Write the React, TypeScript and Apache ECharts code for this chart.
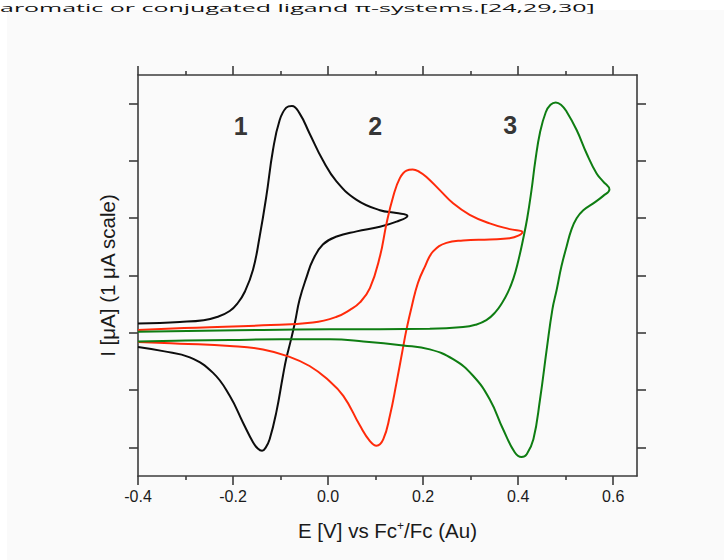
import React, { useEffect, useRef } from "react";
import * as echarts from "echarts";

// Axis ticks (data units)
const xMajorTicks = [-0.4, -0.2, 0, 0.2, 0.4, 0.6];
const xMinorTicks = [-0.3, -0.1, 0.1, 0.3, 0.5];
const yTicks = [-2, -1, 0, 1, 2, 3, 4];

// Cyclic voltammograms: [E (V), I (µA)] in scan order
const curve1: number[][] = [
  [-0.4, 0.16], [-0.312, 0.19], [-0.262, 0.22], [-0.232, 0.28], [-0.207, 0.38], [-0.19, 0.52], [-0.175, 0.72],
  [-0.158, 1.1], [-0.144, 1.68], [-0.13, 2.38], [-0.116, 3.19], [-0.102, 3.71],
  [-0.088, 3.93], [-0.076, 3.96], [-0.06, 3.83], [-0.039, 3.48], [-0.011, 3.01],
  [0.018, 2.64], [0.06, 2.32], [0.109, 2.14], [0.144, 2.09], [0.167, 2.04],
  [0.144, 1.94], [0.109, 1.85], [0.06, 1.77], [0.018, 1.68], [-0.011, 1.54],
  [-0.032, 1.27], [-0.045, 0.98], [-0.06, 0.58], [-0.07, 0.17], [-0.079, -0.15],
  [-0.088, -0.45], [-0.095, -0.75], [-0.109, -1.39], [-0.123, -1.86], [-0.131, -2.0], [-0.139, -2.06],
  [-0.148, -2.02], [-0.158, -1.91], [-0.179, -1.57], [-0.207, -1.1], [-0.242, -0.7], [-0.291, -0.43],
  [-0.347, -0.32], [-0.4, -0.25],
];

const curve2: number[][] = [
  [-0.4, 0.05], [-0.277, 0.09], [-0.137, 0.13], [-0.032, 0.18], [0.018, 0.28],
  [0.046, 0.4], [0.067, 0.53], [0.088, 0.78], [0.109, 1.33], [0.123, 1.91],
  [0.137, 2.38], [0.151, 2.7], [0.165, 2.83], [0.178, 2.85], [0.192, 2.81], [0.207, 2.72],
  [0.235, 2.49], [0.263, 2.26], [0.298, 2.06], [0.34, 1.91], [0.382, 1.81],
  [0.409, 1.76], [0.382, 1.65], [0.34, 1.63], [0.284, 1.61], [0.249, 1.57],
  [0.221, 1.42], [0.204, 1.16], [0.189, 0.87], [0.176, 0.46], [0.165, 0.06],
  [0.157, -0.29], [0.144, -0.87], [0.13, -1.45], [0.116, -1.86], [0.102, -1.97],
  [0.088, -1.89], [0.067, -1.62], [0.032, -1.1], [-0.003, -0.8], [-0.039, -0.58],
  [-0.081, -0.42], [-0.137, -0.29], [-0.207, -0.23], [-0.312, -0.19], [-0.4, -0.16],
];

const curve3: number[][] = [
  [-0.4, 0.02], [-0.137, 0.05], [0.004, 0.06], [0.214, 0.07], [0.284, 0.1],
  [0.31, 0.14], [0.333, 0.22], [0.352, 0.36], [0.366, 0.52], [0.378, 0.7],
  [0.39, 0.95], [0.4, 1.25], [0.41, 1.62], [0.419, 2.0], [0.428, 2.49],
  [0.436, 3.0], [0.446, 3.5], [0.458, 3.85], [0.468, 3.98], [0.479, 4.02],
  [0.49, 3.98], [0.502, 3.86], [0.523, 3.54], [0.544, 3.13], [0.565, 2.78],
  [0.579, 2.64], [0.592, 2.5], [0.579, 2.39], [0.558, 2.26], [0.537, 2.14],
  [0.523, 2.0], [0.512, 1.8], [0.502, 1.51], [0.491, 1.16], [0.481, 0.75],
  [0.472, 0.41], [0.46, -0.29], [0.446, -1.16], [0.432, -1.86], [0.418, -2.12],
  [0.407, -2.17], [0.393, -2.09], [0.368, -1.68], [0.34, -1.16], [0.305, -0.75],
  [0.263, -0.46], [0.214, -0.29], [0.158, -0.22], [0.074, -0.15], [0.004, -0.115],
  [-0.1, -0.115], [-0.207, -0.125], [-0.3, -0.135], [-0.4, -0.15],
];

// Curve labels
const labelNames = ["1", "2", "3"];
const labelX = [-0.184, 0.099, 0.383];
const labelY = [3.61, 3.61, 3.63];

const caption = "aromatic or conjugated ligand π-systems.[24,29,30]";

export default function App() {
  const ref = useRef<HTMLDivElement>(null);

  useEffect(() => {
    if (!ref.current) return;
    const chart = echarts.init(ref.current, null, { renderer: "svg" });
    const axisColor = "#3c3c3c";
    const lineStyle = { color: axisColor, width: 1.6 };
    const font = "'Liberation Sans', Arial, sans-serif";
    const capFont = "11px 'Open Sans'";

    const baseX = {
      type: "value",
      min: -0.4,
      max: 0.65,
      splitLine: { show: false },
      axisLine: { show: true, onZero: false, lineStyle },
      axisLabel: { show: false },
    };
    const baseY = {
      type: "value",
      min: -2.5,
      max: 4.5,
      splitLine: { show: false },
      axisLine: { show: true, onZero: false, lineStyle },
      axisLabel: { show: false },
      axisTick: { show: true, customValues: yTicks, length: 9, inside: false, lineStyle },
    };

    let capScale = 1;
    try {
      const c = document.createElement("canvas").getContext("2d");
      if (c) {
        c.font = capFont;
        const w = c.measureText(caption).width;
        if (w > 0) capScale = 595 / w;
      }
    } catch (e) {}

    const mkLine = (data: number[][], color: string) => ({
      type: "line",
      data,
      xAxisIndex: 0,
      yAxisIndex: 0,
      showSymbol: false,
      symbol: "none",
      smooth: 0.45,
      lineStyle: { color, width: 2 },
      z: 3,
    });

    chart.setOption({
      animation: false,
      backgroundColor: "transparent",
      grid: { left: 138, top: 75, width: 499, height: 401, containLabel: false },
      xAxis: [
        {
          ...baseX,
          position: "bottom",
          axisTick: { show: true, customValues: xMajorTicks, length: 9, inside: false, lineStyle },
          axisLabel: {
            show: true,
            customValues: xMajorTicks,
            formatter: (v: number) => v.toFixed(1),
            color: "#1a1a1a",
            fontSize: 16,
            fontFamily: font,
            margin: 12,
          },
          name: "E [V] vs Fc{sup|+}/Fc (Au)",
          nameLocation: "middle",
          nameGap: 44,
          nameTextStyle: {
            color: "#1a1a1a",
            fontSize: 20.5,
            fontFamily: font,
            rich: {
              sup: { fontSize: 12, fontFamily: font, color: "#1a1a1a", padding: [0, 0, 9, 0] },
            },
          },
        },
        {
          ...baseX,
          position: "bottom",
          axisLine: { show: false, onZero: false },
          axisTick: { show: true, customValues: xMinorTicks, length: 4, inside: false, lineStyle },
        },
        {
          ...baseX,
          position: "top",
          axisTick: { show: true, customValues: xMajorTicks, length: 9, inside: false, lineStyle },
        },
        {
          ...baseX,
          position: "top",
          axisLine: { show: false, onZero: false },
          axisTick: { show: true, customValues: xMinorTicks, length: 4, inside: false, lineStyle },
        },
      ],
      yAxis: [
        {
          ...baseY,
          position: "left",
          name: "I [μA] (1 μA scale)",
          nameLocation: "middle",
          nameGap: 20,
          nameTextStyle: { color: "#1a1a1a", fontSize: 20.5, fontFamily: font },
        },
        { ...baseY, position: "right" },
      ],
      graphic: [
        {
          type: "text",
          x: 0,
          y: 2,
          scaleX: capScale,
          style: {
            text: caption,
            font: capFont,
            fill: "#111",
            verticalAlign: "top",
            align: "left",
          },
        },
      ],
      series: [
        mkLine(curve1, "#0d0d0d"),
        mkLine(curve2, "#ff2a0a"),
        mkLine(curve3, "#0e7d12"),
        {
          type: "scatter",
          xAxisIndex: 0,
          yAxisIndex: 0,
          symbolSize: 0,
          data: labelNames.map((n, i) => [labelX[i], labelY[i], n]),
          label: {
            show: true,
            position: "inside",
            formatter: (p: any) => p.value[2],
            fontSize: 25,
            fontWeight: "bold",
            fontFamily: font,
            color: "#000",
          },
          z: 4,
        },
      ],
    });
    return () => chart.dispose();
  }, []);

  return (
    <div style={{ position: "absolute", left: 0, top: 0, width: 724, height: 560, background: "#ffffff" }}>
      <div style={{ position: "absolute", left: 7, top: 10, width: 717, height: 550, background: "#fafafa" }} />
      <div ref={ref} style={{ position: "absolute", left: 0, top: 0, width: 724, height: 560 }} />
    </div>
  );
}
